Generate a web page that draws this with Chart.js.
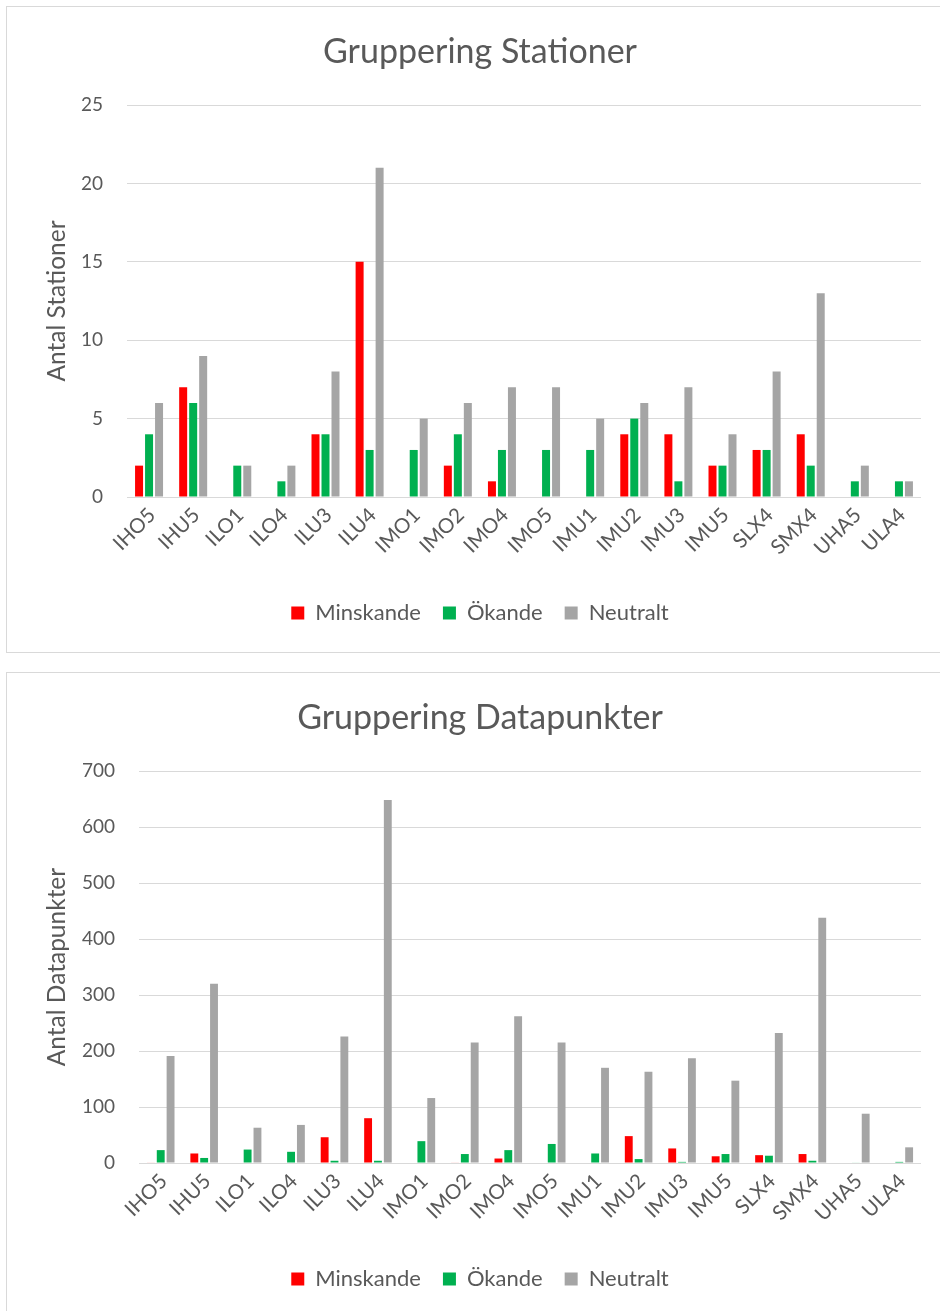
<!DOCTYPE html>
<html>
<head>
<meta charset="utf-8">
<script src="https://cdn.jsdelivr.net/npm/chart.js@4.4.1/dist/chart.umd.min.js"></script>
<style>
  html, body { margin: 0; padding: 0; background: #fff; overflow: hidden; }
  body { width: 940px; height: 1311px; position: relative; }
  .panel { position: absolute; left: 6px; width: 946px; height: 645px; border: 1px solid #d9d9d9; background: #fff; }
  #p1 { top: 6px; }
  #p2 { top: 672px; }
  canvas { display: block; }
</style>
</head>
<body>
<div class="panel" id="p1"><canvas id="c1" width="946" height="644"></canvas></div>
<div class="panel" id="p2"><canvas id="c2" width="946" height="644"></canvas></div>
<script>
// Stations (categories shared by both charts)
const categories = ['IHO5','IHU5','ILO1','ILO4','ILU3','ILU4','IMO1','IMO2','IMO4','IMO5','IMU1','IMU2','IMU3','IMU5','SLX4','SMX4','UHA5','ULA4'];
const seriesNames = ['Minskande', 'Ökande', 'Neutralt'];

// Antal stationer per group
const stationerMinskande = [2, 7, 0, 0, 4, 15, 0, 2, 1, 0, 0, 4, 4, 2, 3, 4, 0, 0];
const stationerOkande    = [4, 6, 2, 1, 4, 3, 3, 4, 3, 3, 3, 5, 1, 2, 3, 2, 1, 1];
const stationerNeutralt  = [6, 9, 2, 2, 8, 21, 5, 6, 7, 7, 5, 6, 7, 4, 8, 13, 2, 1];
const stationerTicks = [0, 5, 10, 15, 20, 25];

// Antal datapunkter per group
const datapunkterMinskande = [1, 17, 0, 0, 46, 80, 0, 1, 8, 0, 0, 48, 26, 12, 14, 16, 0, 0];
const datapunkterOkande    = [23, 9, 24, 20, 4, 4, 39, 16, 23, 34, 17, 7, 2, 16, 13, 4, 1, 2];
const datapunkterNeutralt  = [191, 320, 63, 68, 226, 648, 116, 215, 262, 215, 170, 163, 187, 147, 232, 438, 88, 28];
const datapunkterTicks = [0, 100, 200, 300, 400, 500, 600, 700];

const colors = ['#FF0000', '#00B050', '#A5A5A5'];
const textColor = '#595959';
const gridColor = '#d9d9d9';
const fontFamily = 'Lato, "Open Sans", sans-serif';

function makeChart(canvasId, title, yTitle, series, ticks, yAxisWidth) {
  const maxVal = ticks[ticks.length - 1];
  const step = ticks[1] - ticks[0];
  return new Chart(document.getElementById(canvasId), {
    type: 'bar',
    data: {
      labels: categories,
      datasets: series.map((vals, i) => ({
        label: seriesNames[i],
        data: vals,
        backgroundColor: colors[i],
        borderWidth: 0,
        categoryPercentage: 0.68,
        barPercentage: 0.8
      }))
    },
    options: {
      responsive: false,
      animation: false,
      layout: { padding: { left: 0, right: 0, top: 0, bottom: 17 } },
      plugins: {
        title: {
          display: true,
          text: title,
          color: textColor,
          font: { family: fontFamily, size: 34, weight: 'normal' },
          padding: { top: 24.6, bottom: 32.6 }
        },
        legend: {
          position: 'bottom',
          labels: {
            color: textColor,
            font: { family: fontFamily, size: 22 },
            boxWidth: 13,
            boxHeight: 13,
            padding: 22
          }
        },
        tooltip: { enabled: false }
      },
      scales: {
        x: {
          grid: { display: false, drawTicks: false },
          border: { display: false },
          ticks: {
            color: textColor,
            font: { family: fontFamily, size: 20.5 },
            minRotation: 45,
            maxRotation: 45,
            padding: 6,
            labelOffset: 3,
            autoSkip: false
          },
          afterFit: (scale) => { scale.height = 83; }
        },
        y: {
          min: 0,
          max: maxVal,
          grid: { color: gridColor, lineWidth: 1, drawTicks: false },
          border: { display: false },
          ticks: {
            stepSize: step,
            color: textColor,
            font: { family: fontFamily, size: 19 },
            padding: 24
          },
          title: {
            display: true,
            text: yTitle,
            color: textColor,
            font: { family: fontFamily, size: 24.5 },
            padding: { top: 35, bottom: 0 }
          },
          afterFit: (scale) => { scale.width = yAxisWidth; }
        },
        // empty right-hand margin axis so title and legend centre on the full panel
        yRight: {
          position: 'right',
          display: true,
          grid: { display: false, drawTicks: false },
          border: { display: false },
          ticks: { display: false },
          afterFit: (scale) => { scale.width = 32; }
        }
      }
    }
  });
}

makeChart('c1', 'Gruppering Stationer', 'Antal Stationer',
  [stationerMinskande, stationerOkande, stationerNeutralt], stationerTicks, 120);
makeChart('c2', 'Gruppering Datapunkter', 'Antal Datapunkter',
  [datapunkterMinskande, datapunkterOkande, datapunkterNeutralt], datapunkterTicks, 132);
</script>
</body>
</html>
